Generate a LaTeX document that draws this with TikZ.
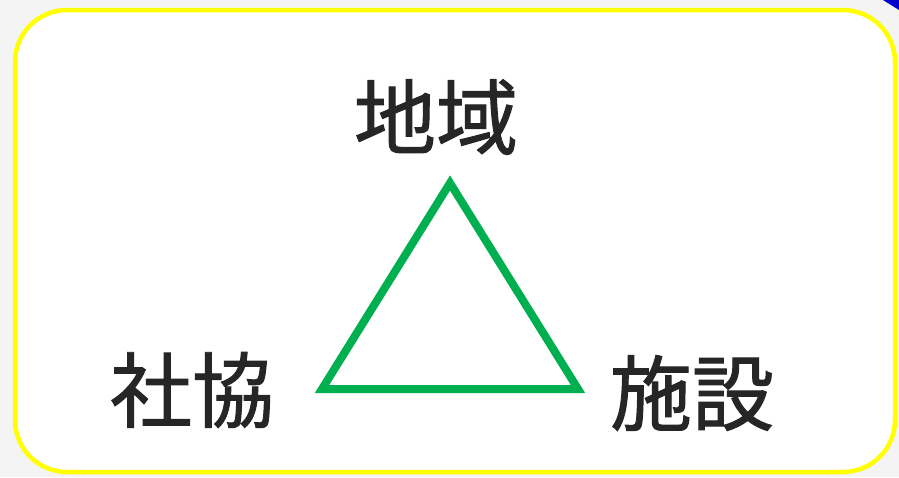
\documentclass[tikz,border=0pt]{standalone}
\usepackage{fontspec}
\newfontfamily\cjk[FakeBold=1.2]{Noto Sans CJK JP}
\definecolor{bg}{HTML}{F4F4F5}
\definecolor{frame}{HTML}{FFFF00}
\definecolor{tri}{HTML}{00B050}
\definecolor{txt}{HTML}{262626}
\definecolor{corner}{HTML}{0000CC}
\tikzset{
  lbl/.style={font=\cjk\fontsize{82}{84}\selectfont, text=txt, inner sep=0pt},
}
\begin{document}
\begin{tikzpicture}[x=1pt,y=-1pt]
\fill[bg] (0,0) rectangle (899,477);
\useasboundingbox (0,0) rectangle (899,477);
\fill[corner] (883,0) -- (899,0) -- (899,10) -- cycle;
\draw[frame, line width=4.5pt, fill=white, rounded corners=52pt] (15,10) rectangle (895,472);
\coordinate (top) at (450,183);
\coordinate (bl) at (322,389);
\coordinate (br) at (578,389);
\draw[tri, line width=8pt, line join=miter] (top) -- (br) -- (bl) -- cycle;
\node[lbl] (chiiki) at (436,117) {地域};
\node[lbl] (shakyo) at (192,390) {社協};
\node[lbl] (shisetsu) at (692,393) {施設};
\end{tikzpicture}
\end{document}
